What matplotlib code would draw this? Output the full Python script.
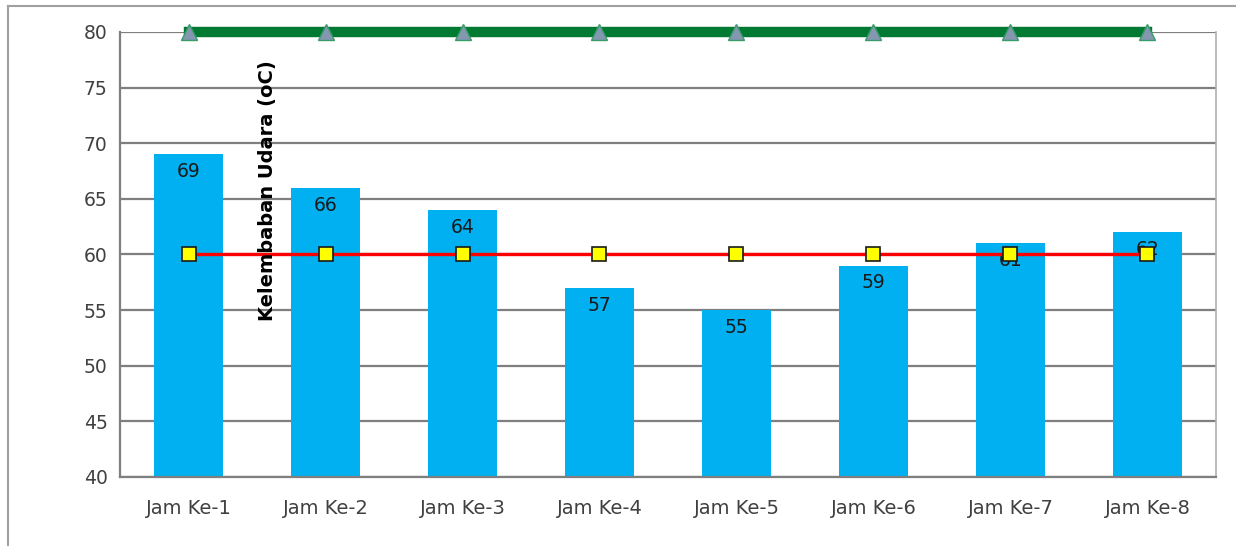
import matplotlib.pyplot as plt
from matplotlib.lines import Line2D

plt.rcParams["font.family"] = ["DejaVu Sans"]

# Data per jam pengamatan
kategori = ["Jam Ke-1", "Jam Ke-2", "Jam Ke-3", "Jam Ke-4",
            "Jam Ke-5", "Jam Ke-6", "Jam Ke-7", "Jam Ke-8"]
kelembaban = [69, 66, 64, 57, 55, 59, 61, 62]
batas_bawah = [60, 60, 60, 60, 60, 60, 60, 60]
batas_atas = [80, 80, 80, 80, 80, 80, 80, 80]
y_ticks = [40, 45, 50, 55, 60, 65, 70, 75, 80]

fig = plt.figure(figsize=(12.36, 5.46), dpi=100)
ax = fig.add_axes([0.0971, 0.1264, 0.8867, 0.815])

x = list(range(len(kategori)))

# gridlines behind everything
for t in y_ticks:
    ax.axhline(t, color="#7f7f7f", lw=1.6, zorder=0)

bars = ax.bar(x, kelembaban, width=0.5, color="#00b0f0", zorder=2)

for xi, v in zip(x, kelembaban):
    ax.annotate(str(v), (xi, v), xytext=(0, -12.5), textcoords="offset points",
                ha="center", va="center", fontsize=13.5, color="#1a1a1a", zorder=3)

ax.plot(x, batas_bawah, color="#ff0000", lw=2.4, marker="s", markersize=10,
        markerfacecolor="#ffff00", markeredgecolor="#1a1a1a", markeredgewidth=1.2, zorder=4)
ax.plot(x, batas_atas, color="#007a33", lw=7.5, marker="^", markersize=12,
        markerfacecolor="#8497b0", markeredgecolor="#3a9a6a", markeredgewidth=1.0,
        zorder=4, clip_on=False)

ax.set_xlim(-0.5, len(kategori) - 0.5)
ax.set_ylim(40, 80)
ax.set_yticks(y_ticks)
ax.set_xticks(x)
ax.set_xticklabels(kategori)
ax.tick_params(axis="y", length=0, labelsize=13.5, colors="#404040", pad=9)
ax.tick_params(axis="x", length=0, labelsize=14, colors="#404040", pad=16)

for side in ["left", "bottom"]:
    ax.spines[side].set_color("#7f7f7f")
    ax.spines[side].set_linewidth(1.6)
ax.spines["top"].set_visible(False)
ax.spines["right"].set_color("#b0b0b0")
ax.spines["right"].set_linewidth(1.2)

fig.text(0.2168, 0.650, "Kelembaban Udara (oC)", rotation=90, ha="center",
         va="center", fontsize=14, fontweight="bold", color="#000000")

# outer chart frame (top and left edge)
fig.add_artist(Line2D([0.0065, 1.0], [0.989, 0.989], color="#a0a0a0", lw=1.5))
fig.add_artist(Line2D([0.0065, 0.0065], [0.0, 0.989], color="#a0a0a0", lw=1.5))

fig.savefig("out.png", dpi=100)
